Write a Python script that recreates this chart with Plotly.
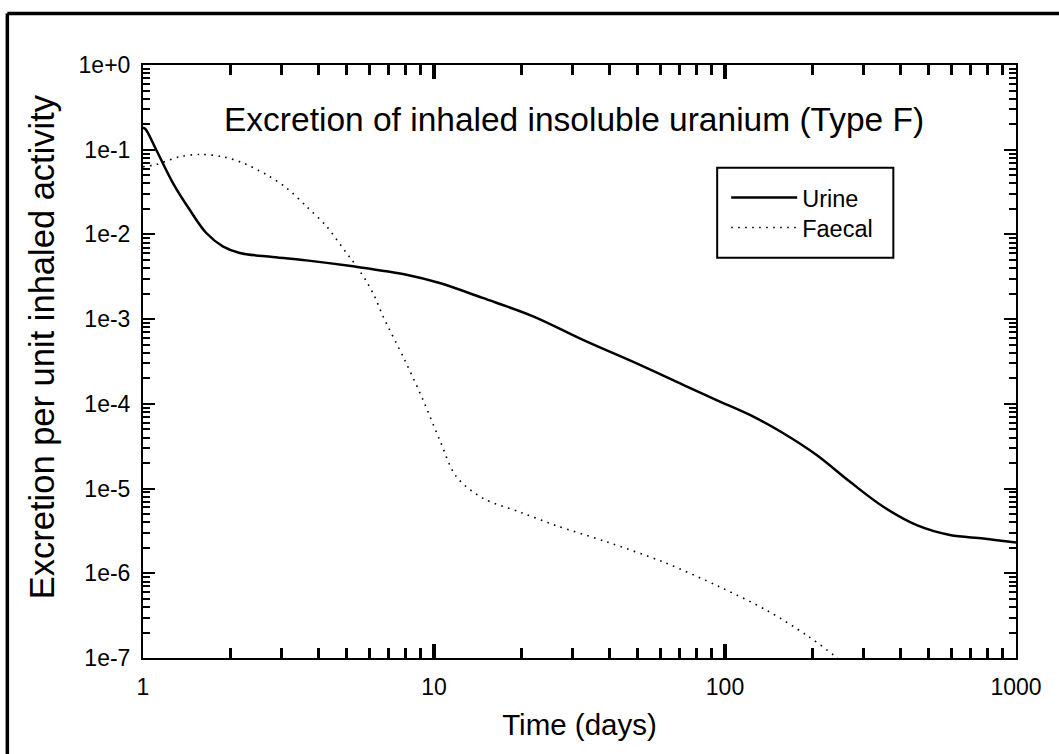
import plotly.graph_objects as go

# ---- data ----
urine_days = [1.0, 1.02, 1.11, 1.266, 1.445, 1.65, 1.88, 2.15, 2.79, 3.64, 5.27, 8.04,
              10.46, 14.7, 21.9, 32.5, 51, 71.8, 93.5, 121.8, 158.6, 206.5, 269, 350,
              456, 593, 772, 1000]
urine_vals = [0.182, 0.175, 0.100, 0.0407, 0.0197, 0.0104, 0.00724, 0.00605, 0.00542,
              0.00494, 0.0042, 0.00335, 0.00267, 0.00178, 0.00108, 5.7e-4, 2.89e-4,
              1.68e-4, 1.11e-4, 7.4e-5, 4.5e-5, 2.49e-5, 1.2e-5, 6.1e-6, 3.7e-6,
              2.83e-6, 2.58e-6, 2.31e-6]

faecal_days = [1.0, 1.11, 1.335, 1.585, 1.88, 2.2, 2.65, 3.11, 3.64, 4.27, 5.0, 5.27,
               5.86, 6.25, 6.68, 7.93, 9.17, 10.46, 11.94, 14.74, 20, 26, 39.2, 61.3,
               96, 139, 190.6, 238.6, 260]
faecal_vals = [0.063, 0.067, 0.0826, 0.0879, 0.0826, 0.070, 0.051, 0.0355, 0.0215,
               0.0125, 0.00605, 0.0048, 0.00279, 0.00186, 0.00108, 3.3e-4, 1.11e-4,
               3.75e-5, 1.38e-5, 7.67e-6, 5.2e-6, 3.7e-6, 2.35e-6, 1.36e-6, 6.9e-7,
               3.66e-7, 1.86e-7, 1.05e-7, 8e-8]

x_tick_vals = [1, 10, 100, 1000]
x_tick_text = ["1", "10", "100", "1000"]
y_tick_vals = [1e0, 1e-1, 1e-2, 1e-3, 1e-4, 1e-5, 1e-6, 1e-7]
y_tick_text = ["1e+0", "1e-1", "1e-2", "1e-3", "1e-4", "1e-5", "1e-6", "1e-7"]

title_text = "Excretion of inhaled insoluble uranium (Type F)"
x_title = "Time (days)"
y_title = "Excretion per unit inhaled activity"

FONT = "Liberation Sans, Arial, Helvetica, sans-serif"

fig = go.Figure()
fig.add_trace(go.Scatter(x=urine_days, y=urine_vals, name="Urine", mode="lines",
                         legend="legend",
                         line=dict(color="black", width=2.5, shape="spline", smoothing=1.0)))
fig.add_trace(go.Scatter(x=faecal_days, y=faecal_vals, name="Faecal", mode="lines",
                         legend="legend2",
                         line=dict(color="black", width=1.6, dash="1.6px,5.4px",
                                   shape="spline", smoothing=0.9)))

leg_common = dict(xanchor="left", yanchor="middle", borderwidth=0,
                  bgcolor="rgba(0,0,0,0)", font=dict(size=23.5, family=FONT),
                  itemwidth=66)

fig.update_layout(
    width=1059, height=754,
    margin=dict(l=143, r=43, t=65, b=96),
    paper_bgcolor="white", plot_bgcolor="white",
    font=dict(family=FONT, color="black", size=23),
    showlegend=True,
    legend=dict(x=0.668, y=0.7763, **leg_common),
    legend2=dict(x=0.668, y=0.7256, **leg_common),
)

fig.update_xaxes(
    type="log", range=[0, 3],
    showgrid=False, zeroline=False,
    showline=True, linecolor="black", linewidth=2, mirror="allticks",
    ticks="inside", ticklen=14, tickwidth=3.5, tickcolor="black",
    tickvals=x_tick_vals, ticktext=x_tick_text,
    tickfont=dict(size=23, family=FONT),
    ticklabelstandoff=7,
    minor=dict(ticks="inside", ticklen=10, tickwidth=3, tickcolor="black", dtick="D1",
               showgrid=False),
    title=dict(text=x_title, font=dict(size=29.5, family=FONT), standoff=16),
)
fig.update_yaxes(
    type="log", range=[-7, 0],
    showgrid=False, zeroline=False,
    showline=True, linecolor="black", linewidth=2, mirror="allticks",
    ticks="inside", ticklen=12, tickwidth=2, tickcolor="black",
    tickvals=y_tick_vals, ticktext=y_tick_text,
    tickfont=dict(size=23, family=FONT),
    ticklabelstandoff=6,
    minor=dict(ticks="inside", ticklen=7, tickwidth=2, tickcolor="black", dtick="D1",
               showgrid=False),
)

# y-axis title (placed as rotated text for exact position)
fig.add_annotation(text=y_title, xref="paper", yref="paper", x=-0.1164, y=0.5247,
                   xanchor="center", yanchor="middle", textangle=-90, showarrow=False,
                   font=dict(size=34.5, family=FONT, color="black"))

fig.add_annotation(text=title_text, xref="paper", yref="paper", x=0.494, y=0.908,
                   xanchor="center", yanchor="middle", showarrow=False,
                   font=dict(size=33.5, family=FONT, color="black"))

# legend frame
fig.add_shape(type="rect", xref="paper", yref="paper",
              x0=0.6577, x1=0.8595, y0=0.675, y1=0.8269,
              line=dict(color="black", width=2), fillcolor="rgba(0,0,0,0)", layer="above")

# outer frame around the figure (extends past right/bottom edges)
frame = dict(type="line", xref="paper", yref="paper",
             line=dict(color="black", width=3.5), layer="above")
fig.add_shape(**frame, x0=-0.1554, x1=-0.1554, y0=1.087, y1=-0.25)
fig.add_shape(**frame, x0=-0.1554, x1=1.1, y0=1.087, y1=1.087)

fig.write_html("out.html")
